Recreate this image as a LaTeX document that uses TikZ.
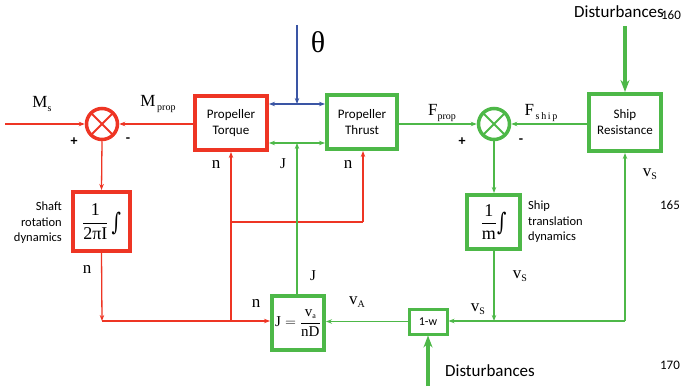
\documentclass[tikz,border=0pt]{standalone}
\usepackage{fontspec}
\setmainfont{Carlito}
\newfontfamily\tms{Liberation Serif}
\newfontfamily\dvs{DejaVu Serif}
\usetikzlibrary{arrows.meta,calc}
\definecolor{cred}{HTML}{EE3524}
\definecolor{cgreen}{HTML}{4DB848}
\definecolor{cblue}{HTML}{3A55A4}
\newcommand{\lbl}[2]{{\tms #1}\raisebox{-0.4ex}{\tms\fontsize{10}{11}\selectfont #2}}
\newcommand{\tx}[1]{\mbox{\tms #1}}
\newcommand{\integ}{\raisebox{-0.35ex}{\scalebox{1}[1.35]{\dvs ∫}}}
\tikzset{
  rbox/.style={draw=cred,line width=4pt,fill=white,align=center,inner sep=1pt,font=\fontsize{13}{16}\selectfont},
  gbox/.style={draw=cgreen,line width=4pt,fill=white,align=center,inner sep=1pt,font=\fontsize{13}{16}\selectfont},
  sumr/.style={circle,draw=cred,line width=3.5pt,minimum size=31pt,inner sep=0pt},
  sumg/.style={circle,draw=cgreen,line width=3.5pt,minimum size=31pt,inner sep=0pt},
  arr/.style={-{Stealth[length=6pt,width=4.5pt]},line width=1.3pt},
  darr/.style={{Stealth[length=6pt,width=4.5pt]}-{Stealth[length=6pt,width=4.5pt]},line width=1.3pt},
  bigarr/.style={-{Stealth[length=12pt,width=9pt]},line width=3.5pt,cgreen},
  tlab/.style={font=\tms\fontsize{17}{19}\selectfont,inner sep=0pt},
  jlab/.style={font=\tms\fontsize{15}{17}\selectfont,inner sep=0pt},
  side/.style={font=\fontsize{12.5}{15.5}\selectfont,inner sep=0pt},
  dist/.style={font=\fontsize{17}{19}\selectfont,inner sep=0pt},
  pnum/.style={font=\fontsize{13}{15}\selectfont,inner sep=0pt},
  pm/.style={font=\bfseries\fontsize{14}{16}\selectfont,inner sep=0pt},
}
\begin{document}
\begin{tikzpicture}[x=1pt,y=-1pt]
\useasboundingbox (0,0) rectangle (682,387);
% nodes
\node[sumr] (s1) at (102,124) {};
\draw[cred,line width=2pt] ($(s1)+(-10,-10)$) -- ($(s1)+(10,10)$) ($(s1)+(-10,10)$) -- ($(s1)+(10,-10)$);
\node[rbox,minimum width=72pt,minimum height=54pt] (torque) at (231,123) {Propeller\\Torque};
\node[gbox,minimum width=70pt,minimum height=54pt] (thrust) at (362,122) {Propeller\\Thrust};
\node[sumg] (s2) at (494,124) {};
\draw[cgreen,line width=2pt] ($(s2)+(-10,-10)$) -- ($(s2)+(10,10)$) ($(s2)+(-10,10)$) -- ($(s2)+(10,-10)$);
\node[gbox,minimum width=72pt,minimum height=57pt] (resist) at (625,122.5) {Ship\\Resistance};
\node[rbox,minimum width=57pt,minimum height=59pt,font=\fontsize{18}{20}\selectfont] (shaft) at (101.5,221.5) {$\displaystyle\frac{\tx{1}}{\tx{2πI}}$\,\integ};
\node[gbox,minimum width=53pt,minimum height=54pt,font=\fontsize{18}{20}\selectfont] (trans) at (493.5,222) {$\displaystyle\frac{\tx{1}}{\tx{m}}$\integ};
\node[gbox,minimum width=52pt,minimum height=54pt,font=\fontsize{15}{17}\selectfont] (J) at (298,323) {$\displaystyle \tx{J}=\frac{\tx{v}\raisebox{-0.3ex}{\tms\fontsize{8}{9}\selectfont a}}{\tx{nD}}$};
\node[gbox,line width=3pt,minimum width=38pt,minimum height=25pt,font=\fontsize{12}{14}\selectfont] (w) at (428,321.5) {1-w};
% coordinates
\coordinate (in) at (5,124);
\coordinate (c1) at (102,321);
\coordinate (c2) at (231,321);
\coordinate (c3) at (231,222);
\coordinate (c4) at (363,222);
\coordinate (th) at (297,25);
\coordinate (thb) at (297,104);
\coordinate (jb) at (297,143);
\coordinate (c5) at (494,321);
\coordinate (c6) at (625,321);
\coordinate (d1) at (428,386);
\coordinate (d2) at (625,26);
% red connectors
\draw[arr,cred] (in) -- (s1.west);
\draw[arr,cred] (torque.west |- s1) -- (s1.east);
\draw[arr,cred] (s1.south) -- (shaft.north);
\draw[arr,cred] (shaft.south) -- (c1);
\draw[arr,cred] (c1) -- (J.west |- c1);
\draw[arr,cred] (c2) -- (torque.south);
\draw[cred,line width=1.3pt] (c3) -- (c4);
\draw[arr,cred] (c4) -- (thrust.south -| c4);
% blue
\draw[arr,cblue] (th) -- (thb);
\draw[darr,cblue] (torque.east |- thb) -- (thrust.west |- thb);
% green
\draw[darr,cgreen] (torque.east |- jb) -- (thrust.west |- jb);
\draw[arr,cgreen] (J.north -| jb) -- (jb);
\draw[arr,cgreen] (thrust.east |- s2) -- (s2.west);
\draw[arr,cgreen] (resist.west |- s2) -- (s2.east);
\draw[arr,cgreen] (s2.south) -- (trans.north -| s2);
\draw[arr,cgreen] (trans.south -| c5) -- (c5);
\draw[arr,cgreen] (c5) -- (w.east |- c5);
\draw[cgreen,line width=2pt] (c5) -- (c6);
\draw[arr,cgreen] (c6) -- (resist.south);
\draw[arr,cgreen] (w.west) -- (J.east |- w);
\draw[bigarr] (d1) -- (w.south);
\draw[bigarr] (d2) -- (resist.north);
% labels
\node[tlab] at (42,104) {\lbl{M}{s}};
\node[tlab] at (158,104) {\lbl{M}{\,prop}};
\node[pm] at (74,142) {+};
\node[pm] at (128,140) {-};
\node[tlab,font=\tms\fontsize{30}{32}\selectfont] at (318,42) {θ};
\node[tlab] at (216,164) {n};
\node[jlab] at (283,164) {J};
\node[tlab] at (348,164) {n};
\node[tlab] at (442,113) {\lbl{F}{prop}};
\node[tlab] at (541,113) {\lbl{F}{\,s\,h\,i\,p}};
\node[pm] at (462,142) {+};
\node[pm] at (521,141) {-};
\node[tlab] at (650,174) {\lbl{v}{S}};
\node[side,align=right,anchor=east] at (62,223) {Shaft\\rotation\\dynamics};
\node[tlab] at (87,269) {n};
\node[tlab] at (256,303) {n};
\node[jlab] at (313,276) {J};
\node[tlab] at (357,302) {\lbl{v}{A}};
\node[tlab] at (478,309) {\lbl{v}{S}};
\node[tlab] at (520,276) {\lbl{v}{S}};
\node[side,align=left,anchor=west] at (528,222) {Ship\\translation\\dynamics};
\node[dist] at (490,371) {Disturbances};
\node[dist] at (619,12) {Disturbances};
\node[pnum] at (671,15) {160};
\node[pnum] at (670,205) {165};
\node[pnum] at (670,365) {170};
\end{tikzpicture}
\end{document}
